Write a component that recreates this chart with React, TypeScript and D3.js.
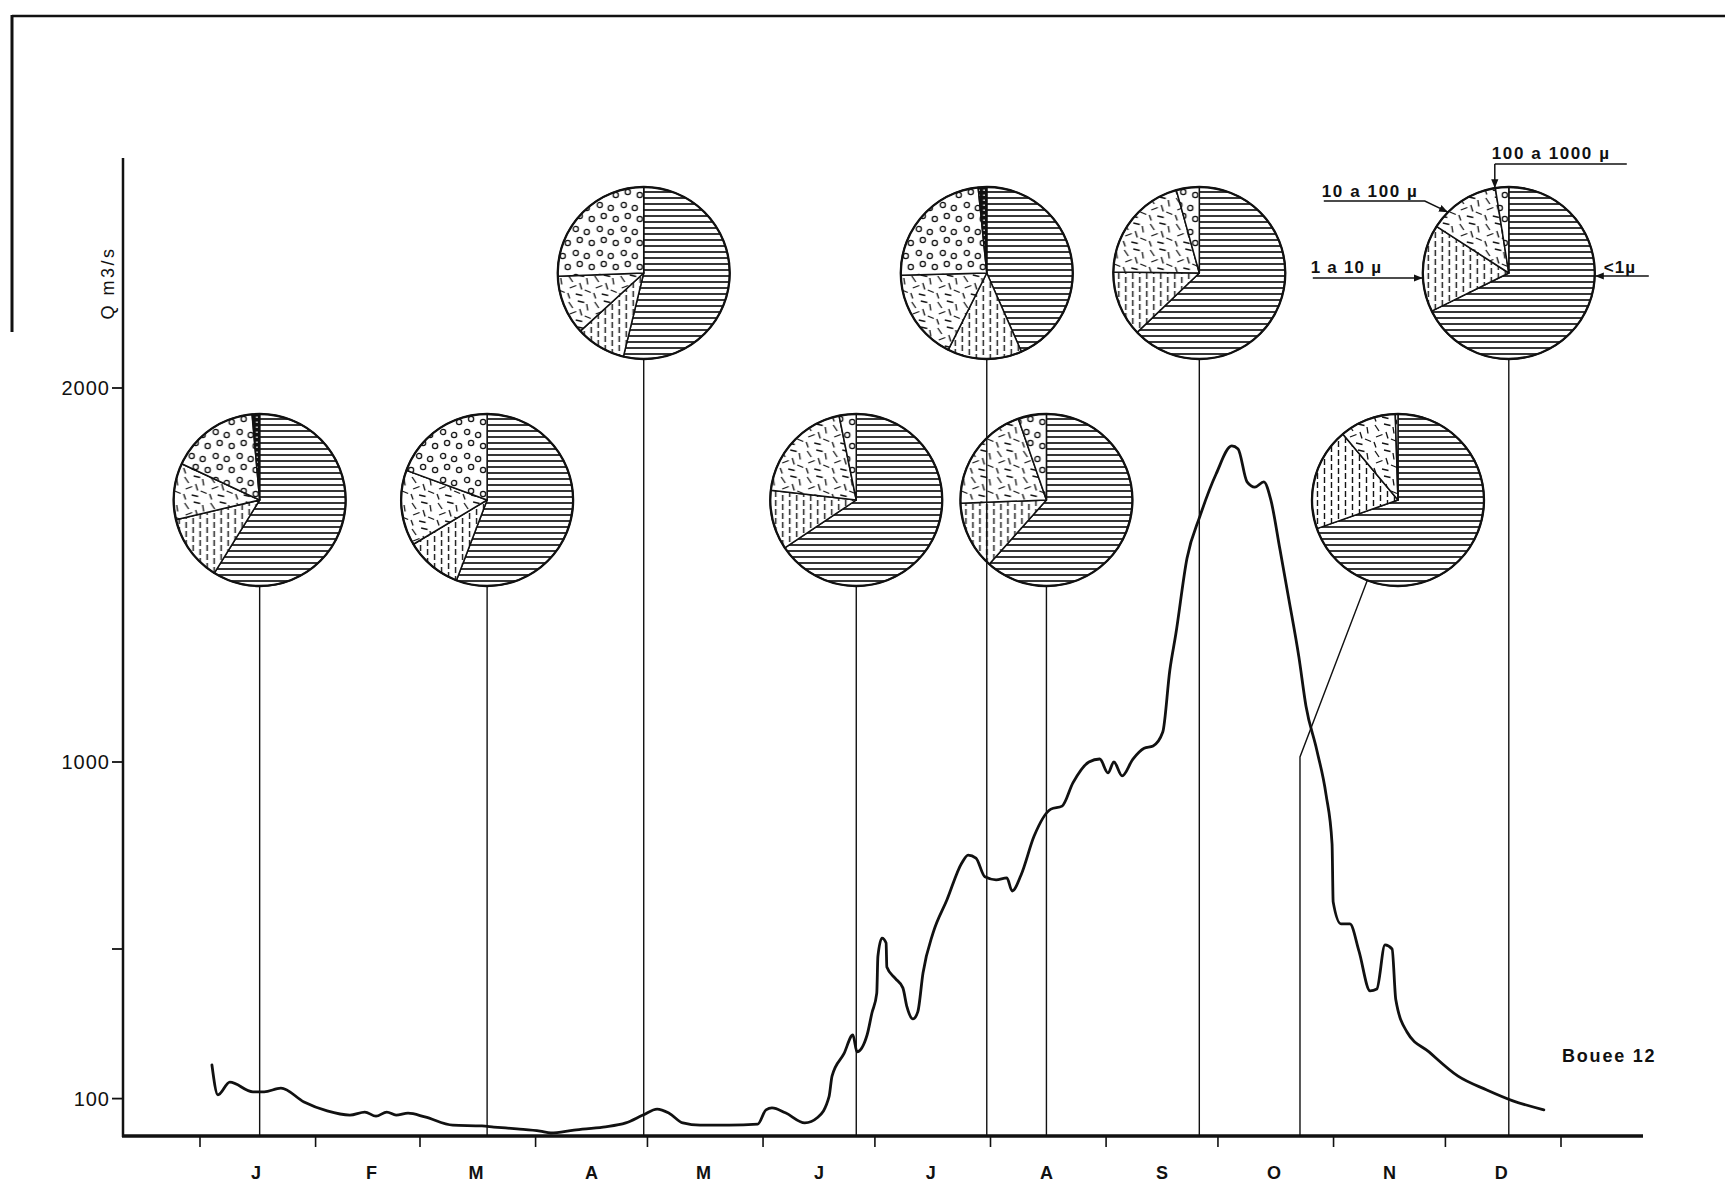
import React from 'react';
import * as d3 from 'd3';

const YEAR = 1975;

// discharge record at Bouee 12: day offset from 1 January, Q in m3/s
const flowDay = [3.2, 4.8, 8.0, 14.2, 17.2, 21.7, 27.9, 34.1, 40.2, 44.2, 47.2, 50.1, 52.6, 55.8, 60.3, 67.8, 75.6, 78.8, 85.0, 91.2, 94.1, 100.3, 108.1, 114.2, 118.8, 122.6, 125.8, 129.5, 134.1, 141.9, 149.6, 151.8, 153.4, 157.0, 162.2, 165.7, 168.7, 169.5, 172.7, 175.1, 176.2, 178.9, 180.2, 181.5, 181.8, 182.9, 184.0, 184.2, 186.4, 188.5, 189.6, 191.2, 192.5, 193.9, 196.6, 200.3, 204.3, 206.0, 208.1, 210.5, 213.5, 216.4, 217.8, 220.2, 223.7, 228.2, 231.2, 234.1, 238.4, 241.3, 243.5, 245.1, 247.3, 250.2, 253.2, 255.6, 258.2, 260.1, 261.7, 264.7, 268.2, 272.5, 276.7, 278.4, 280.8, 282.9, 285.3, 287.2, 289.6, 292.0, 294.7, 296.6, 299.5, 302.0, 303.6, 303.9, 306.0, 308.4, 310.8, 313.8, 315.6, 317.8, 319.7, 320.7, 323.7, 329.6, 337.4, 345.1, 352.1, 360.4];
const flowQ = [190, 110, 144, 118, 118, 128, 91, 67, 56, 64, 53, 64, 56, 61, 51, 29, 27, 24, 19, 13, 8, 16, 24, 35, 56, 72, 61, 35, 29, 29, 32, 70, 75, 62, 35, 50, 105, 160, 220, 270, 225, 270, 329, 382, 480, 529, 516, 452, 422, 396, 345, 313, 332, 436, 543, 631, 730, 751, 743, 693, 685, 690, 655, 698, 802, 874, 882, 944, 1000, 1008, 971, 1000, 963, 1008, 1037, 1043, 1080, 1246, 1342, 1545, 1658, 1770, 1845, 1837, 1749, 1735, 1749, 1700, 1570, 1436, 1281, 1150, 1032, 912, 781, 626, 567, 567, 495, 388, 393, 511, 500, 364, 278, 225, 160, 123, 94, 70];

const monthLabels = ['J', 'F', 'M', 'A', 'M', 'J', 'J', 'A', 'S', 'O', 'N', 'D'];
const yTicks = [100, 500, 1000, 2000];
const yTickLabels = ['100', '', '1000', '2000'];

// sampling dates (month, day) of the grain size pies
const sampleMonth = [1, 3, 4, 6, 7, 8, 9, 10, 12];
const sampleDayOfMonth = [17, 19, 30, 26, 31, 16, 26, 23, 18];

// grain size classes, % of each sample
const sizeClasses = ['<1µ', '1 a 10µ', '10 a 100µ', '100 a 1000µ', '>1000µ'];
const pctLt1 = [58.9, 55.8, 53.8, 65.6, 43.4, 61.6, 62.8, 69.6, 67.7];
const pct1to10 = [12.5, 10.6, 9.4, 11.2, 14.0, 12.8, 12.3, 19.3, 16.4];
const pct10to100 = [10.6, 14.2, 11.2, 20.0, 17.2, 20.3, 20.5, 10.6, 13.4];
const pct100to1000 = [16.7, 19.4, 25.6, 3.2, 23.8, 5.3, 4.3, 0.5, 2.5];
const pctGt1000 = [1.4, 0, 0, 0, 1.6, 0, 0, 0, 0];

// layout
const W = 1725;
const H = 1188;
const FONT = "'Liberation Sans', Arial, Helvetica, sans-serif";
const R = 86;
const pieRowY = { low: 500, high: 273 };
const pieRow = ['low', 'low', 'high', 'low', 'high', 'low', 'high', 'low', 'high'];
const pieShift = [0, 0, 0, 0, 0, 0, 0, 98, 0];
const elbowY = 757;
const patternIds = ['pHoriz', 'pVert', 'pDash', 'pCirc', 'pBlack'];

const t0 = new Date(YEAR, 0, 1).getTime();
const dayToDate = (d: number) => new Date(t0 + d * 864e5);

const x = d3.scaleTime()
  .domain([new Date(YEAR, 0, 1), new Date(YEAR + 1, 0, 1)])
  .range([200, 1561]);
const y = d3.scaleLinear().domain([0, 2000]).range([1136, 388]);

const flow = flowDay.map((d, i) => ({ date: dayToDate(d), q: flowQ[i] }));

const line = d3.line<{ date: Date; q: number }>()
  .x((d) => x(d.date))
  .y((d) => y(d.q))
  .curve(d3.curveMonotoneX);

const arc = d3.arc<d3.PieArcDatum<number>>().innerRadius(0).outerRadius(R);
const pie = d3.pie<number>().sort(null).value((d) => d);

const dashStrokes = [
  [3, 3, 7, 9], [12, 2, 18.5, 3.5], [21, 5, 22, 11.5], [4, 15, 10.5, 12.5],
  [14, 10, 16, 16.5], [19, 17, 25, 19.5], [2, 20, 4, 25.5], [10, 21, 16.5, 22.5],
];
const circleDots = [[4, 4], [15, 7], [8, 15], [20, 18]];

function Patterns() {
  return (
    <defs>
      <pattern id="pHoriz" patternUnits="userSpaceOnUse" width={8} height={6}>
        <rect width={8} height={6} fill="#fff" />
        <line x1={0} x2={8} y1={3} y2={3} stroke="#111" strokeWidth={1.7} />
      </pattern>
      <pattern id="pVert" patternUnits="userSpaceOnUse" width={14} height={9}>
        <rect width={14} height={9} fill="#fff" />
        <line x1={3.5} x2={3.5} y1={0} y2={6} stroke="#111" strokeWidth={1.4} />
        <line x1={10.5} x2={10.5} y1={4} y2={9} stroke="#111" strokeWidth={1.4} />
        <line x1={10.5} x2={10.5} y1={0} y2={1} stroke="#111" strokeWidth={1.4} />
      </pattern>
      <pattern id="pDash" patternUnits="userSpaceOnUse" width={26} height={26}>
        <rect width={26} height={26} fill="#fff" />
        {dashStrokes.map((s, i) => (
          <line key={i} x1={s[0]} y1={s[1]} x2={s[2]} y2={s[3]} stroke="#111" strokeWidth={1.3} />
        ))}
      </pattern>
      <pattern id="pCirc" patternUnits="userSpaceOnUse" width={24} height={24}>
        <rect width={24} height={24} fill="#fff" />
        {circleDots.map((c, i) => (
          <circle key={i} cx={c[0]} cy={c[1]} r={2.6} fill="none" stroke="#111" strokeWidth={1.3} />
        ))}
      </pattern>
      <pattern id="pBlack" patternUnits="userSpaceOnUse" width={5} height={5}>
        <rect width={5} height={5} fill="#111" />
        <rect x={1.5} y={1.5} width={1.5} height={1.5} fill="#fff" />
      </pattern>
      <marker id="arrow" viewBox="0 0 10 10" refX={10} refY={5} markerWidth={9} markerHeight={9}
        markerUnits="userSpaceOnUse" orient="auto">
        <path d="M0,1 L10,5 L0,9 z" fill="#111" />
      </marker>
    </defs>
  );
}

export default function App() {
  const samples = sampleMonth.map((m, i) => {
    const date = new Date(YEAR, m - 1, sampleDayOfMonth[i]);
    const sx = x(date);
    const cx = sx + pieShift[i];
    const cy = pieRowY[pieRow[i] as 'low' | 'high'];
    const values = [pctLt1[i], pct1to10[i], pct10to100[i], pct100to1000[i], pctGt1000[i]];
    return { date, sx, cx, cy, values };
  });

  const months = d3.timeMonth.range(new Date(YEAR, 0, 1), new Date(YEAR + 1, 0, 1));
  const monthTicks = [...months, new Date(YEAR + 1, 0, 1)];
  const y0 = y(0);
  const legend = samples[samples.length - 1];

  return (
    <svg width={W} height={H} style={{ position: 'absolute', left: 0, top: 0, background: '#fff' }}
      fontFamily={FONT}>
      <Patterns />

      {/* frame remnants of the page */}
      <line x1={12} x2={W} y1={16} y2={16} stroke="#111" strokeWidth={2.5} />
      <line x1={12} x2={12} y1={15} y2={332} stroke="#111" strokeWidth={3} />

      {/* y axis */}
      <line x1={123} x2={123} y1={158} y2={y0 + 1} stroke="#111" strokeWidth={2.5} />
      {yTicks.map((t, i) => (
        <g key={t}>
          <line x1={112} x2={123} y1={y(t)} y2={y(t)} stroke="#111" strokeWidth={1.8} />
          <text x={110} y={y(t)} dy="0.36em" textAnchor="end" fontSize={20} letterSpacing={1}
            fill="#111">{yTickLabels[i]}</text>
        </g>
      ))}
      <text transform="translate(114, 283) rotate(-90)" textAnchor="middle" fontSize={18}
        letterSpacing={2.5} fill="#111">Q  m3/s</text>

      {/* x axis */}
      <line x1={122} x2={1643} y1={y0} y2={y0} stroke="#111" strokeWidth={3.5} />
      {monthTicks.map((d, i) => (
        <line key={i} x1={x(d)} x2={x(d)} y1={y0} y2={y0 + 11} stroke="#111" strokeWidth={1.6} />
      ))}
      {months.map((d, i) => (
        <text key={i} x={x(new Date(YEAR, i, 16))} y={1179} textAnchor="middle" fontSize={18}
          fontWeight="bold" fill="#111">{monthLabels[i]}</text>
      ))}

      {/* discharge */}
      <path d={line(flow) || ''} fill="none" stroke="#111" strokeWidth={2.8}
        strokeLinejoin="round" strokeLinecap="round" />
      <text x={1562} y={1062} fontSize={18} fontWeight="bold" letterSpacing={1.8} fill="#111">Bouee 12</text>

      {/* grain size pies */}
      {samples.map((s, i) => (
        <g key={i} transform={`translate(${s.cx},${s.cy})`}>
          {pie(s.values).map((a, j) => (a.value > 0 ? (
            <path key={j} d={arc(a) || ''} fill={`url(#${patternIds[j]})`} stroke="#111"
              strokeWidth={1.5} strokeLinejoin="round">
              <title>{sizeClasses[j]}</title>
            </path>
          ) : null))}
          <circle r={R} fill="none" stroke="#111" strokeWidth={2.3} />
        </g>
      ))}

      {/* stems from the pies down to the sampling date */}
      {samples.map((s, i) => {
        if (pieShift[i] === 0) {
          return <line key={i} x1={s.sx} x2={s.sx} y1={s.cy + R} y2={y0} stroke="#111" strokeWidth={1.4} />;
        }
        const dx = s.sx - s.cx;
        const dy = elbowY - s.cy;
        const len = Math.hypot(dx, dy);
        const ex = s.cx + (dx / len) * R;
        const ey = s.cy + (dy / len) * R;
        return (
          <polyline key={i} points={`${ex},${ey} ${s.sx},${elbowY} ${s.sx},${y0}`} fill="none"
            stroke="#111" strokeWidth={1.4} />
        );
      })}

      {/* legend on the last pie */}
      <g transform={`translate(${legend.cx},${legend.cy})`} fill="#111" fontSize={17} fontWeight="bold">
        <text x={-17} y={-114} letterSpacing={1.6}>100 a 1000 µ</text>
        <line x1={-14} x2={118} y1={-109} y2={-109} stroke="#111" strokeWidth={1.5} />
        <line x1={-14} x2={-14} y1={-109} y2={-Math.sqrt(R * R - 14 * 14)} stroke="#111" strokeWidth={1.5}
          markerEnd="url(#arrow)" />

        <text x={-187} y={-76} letterSpacing={1.6}>10 a 100 µ</text>
        <polyline points={`-185,-72 -84,-72 ${-R * Math.SQRT1_2},${-R * Math.SQRT1_2}`} fill="none"
          stroke="#111" strokeWidth={1.5} markerEnd="url(#arrow)" />

        <text x={-198} y={0} letterSpacing={1.2}>1 a 10 µ</text>
        <line x1={-196} x2={-R} y1={5} y2={5} stroke="#111" strokeWidth={1.5} markerEnd="url(#arrow)" />

        <text x={95} y={0} letterSpacing={1}>&lt;1µ</text>
        <line x1={140} x2={R} y1={3} y2={3} stroke="#111" strokeWidth={1.5} markerEnd="url(#arrow)" />
      </g>
    </svg>
  );
}
